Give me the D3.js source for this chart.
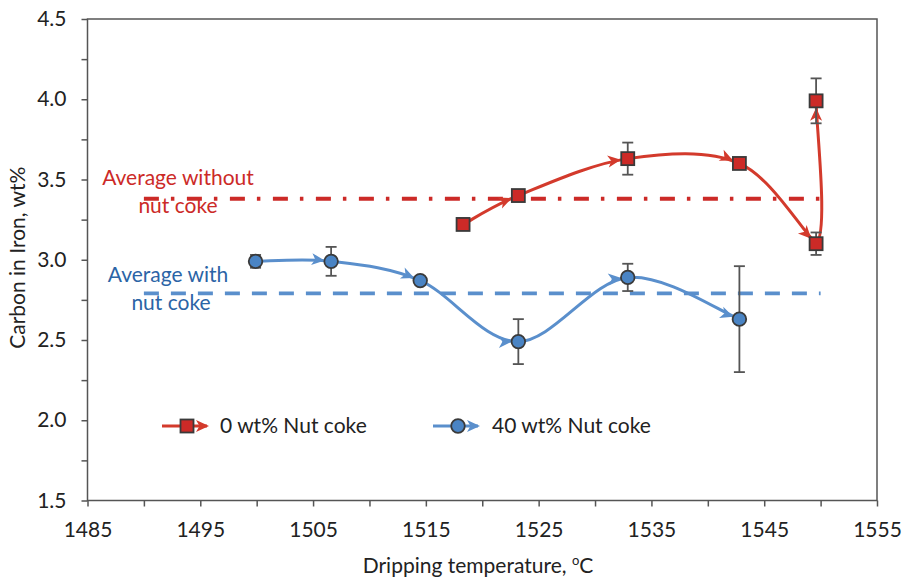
<!DOCTYPE html>
<html><head><meta charset="utf-8">
<script src="https://cdn.jsdelivr.net/npm/d3@7"></script>
<style>body{margin:0;background:#fff}svg{display:block}text{font-family:Lato,"Open Sans",sans-serif}</style>
</head><body><svg id="c" width="904" height="580"></svg>
<script>
const redTemp = [1518.3, 1523.2, 1532.9, 1542.8, 1549.6, 1549.6];
const redCarbon = [3.22, 3.40, 3.63, 3.60, 3.10, 3.99];
const redErr = [0.03, 0.0, 0.10, 0.0, 0.07, 0.14];
const blueTemp = [1499.9, 1506.6, 1514.5, 1523.2, 1532.9, 1542.8];
const blueCarbon = [2.99, 2.99, 2.87, 2.49, 2.89, 2.63];
const blueErr = [0.04, 0.09, 0.0, 0.14, 0.085, 0.33];
const avgWithout = 3.38, avgWith = 2.79;
const avgRange = [1490, 1550];
const xTicks = [1485, 1495, 1505, 1515, 1525, 1535, 1545, 1555];
const yTicks = [1.5, 2.0, 2.5, 3.0, 3.5, 4.0, 4.5];
const seriesNames = ["0 wt% Nut coke", "40 wt% Nut coke"];

const RED = "#cc2a27", REDL = "#d33a2c", BLUE = "#4a84c4", BLUEL = "#5a8fcc", AX = "#555";
const FS = "21px";
const svg = d3.select("#c");
const L = 87.5, R = 877, T = 19, B = 500.5;
const x = d3.scaleLinear().domain([1485, 1555]).range([L, R]);
const y = d3.scaleLinear().domain([1.5, 4.5]).range([B, T]);

// frame
svg.append("rect").attr("x", L).attr("y", T).attr("width", R - L).attr("height", B - T)
  .attr("fill", "none").attr("stroke", AX).attr("stroke-width", 1.5);

// axes
const xAx = svg.append("g").attr("transform", `translate(0,${B})`)
  .call(d3.axisBottom(x).tickValues(d3.range(1485, 1556, 5)).tickSize(6).tickFormat(d => xTicks.includes(d) ? d : ""));
const yAx = svg.append("g").attr("transform", `translate(${L},0)`)
  .call(d3.axisLeft(y).tickValues(d3.range(1.5, 4.51, 0.25)).tickSize(6)
    .tickFormat(d => yTicks.some(t => Math.abs(t - d) < 1e-6) ? d3.format(".1f")(d) : ""));
[xAx, yAx].forEach(g => {
  g.select(".domain").remove();
  g.selectAll("line").attr("stroke", AX).attr("stroke-width", 1.5);
  g.selectAll("text").attr("fill", "#222").style("font-size", FS);
});
xAx.selectAll("text").attr("y", 36.5).attr("dy", 0);
yAx.selectAll("text").attr("x", -21);

// axis titles
svg.append("text").attr("x", 478).attr("y", 573).attr("text-anchor", "middle")
  .style("font-size", FS).attr("fill", "#222")
  .html('Dripping temperature, <tspan dy="-8" font-size="13px">o</tspan><tspan dy="8">C</tspan>');
svg.append("text").attr("transform", `translate(25,${(T + B) / 2 - 2}) rotate(-90)`).attr("text-anchor", "middle")
  .style("font-size", FS).attr("fill", "#222").text("Carbon in Iron, wt%");

// average lines
svg.append("line").attr("x1", x(avgRange[0])).attr("x2", x(avgRange[1]))
  .attr("y1", y(avgWithout)).attr("y2", y(avgWithout))
  .attr("stroke", RED).attr("stroke-width", 3.8).attr("stroke-dasharray", "15,12,3.5,12.5");
svg.append("line").attr("x1", x(avgRange[0])).attr("x2", x(avgRange[1]))
  .attr("y1", y(avgWith)).attr("y2", y(avgWith))
  .attr("stroke", BLUEL).attr("stroke-width", 3.8).attr("stroke-dasharray", "15,12");

// annotation labels
const ann = [
  {t: "Average without", x: 178, y: 185, c: RED},
  {t: "nut coke", x: 178, y: 213, c: RED},
  {t: "Average with", x: 168, y: 282, c: "#2b64a6"},
  {t: "nut coke", x: 171, y: 310, c: "#2b64a6"}
];
svg.selectAll(".ann").data(ann).enter().append("text").attr("class", "ann")
  .attr("x", d => d.x).attr("y", d => d.y).attr("text-anchor", "middle")
  .style("font-size", FS).attr("fill", d => d.c).text(d => d.t);

// arrow markers
const defs = svg.append("defs");
function marker(id, col, off) {
  defs.append("marker").attr("id", id).attr("markerUnits", "userSpaceOnUse")
    .attr("viewBox", "-2 -8 30 16").attr("markerWidth", 30).attr("markerHeight", 16)
    .attr("refX", 13 + off).attr("refY", 0).attr("orient", "auto")
    .append("path").attr("d", "M0,-6 L13,0 L0,6 L3.5,0 Z").attr("fill", col);
}
marker("arR", REDL, 7);
marker("arB", BLUEL, 6.5);

function drawSeries(xs, ys, errs, lineCol, fillCol, mk, shape) {
  const pts = xs.map((t, i) => [x(t), y(ys[i])]);
  const n = pts.length;
  // sharp turn detection: use chord tangent on incoming side
  const sharp = pts.map((p, i) => {
    if (i === 0 || i === n - 1) return false;
    const a = [p[0] - pts[i - 1][0], p[1] - pts[i - 1][1]], b = [pts[i + 1][0] - p[0], pts[i + 1][1] - p[1]];
    const c = (a[0] * b[0] + a[1] * b[1]) / (Math.hypot(...a) * Math.hypot(...b));
    return c < -0.4;
  });
  const g = svg.append("g");
  for (let i = 0; i < n - 1; i++) {
    const p0 = pts[Math.max(0, i - 1)], p1 = pts[i], p2 = pts[i + 1], p3 = pts[Math.min(n - 1, i + 2)];
    const c1 = [p1[0] + (p2[0] - p0[0]) / 6, p1[1] + (p2[1] - p0[1]) / 6];
    let c2 = [p2[0] - (p3[0] - p1[0]) / 6, p2[1] - (p3[1] - p1[1]) / 6];
    if (sharp[i + 1]) c2 = [p2[0] - (p2[0] - p1[0]) / 4, p2[1] - (p2[1] - p1[1]) / 4];
    const path = d3.path();
    path.moveTo(p1[0], p1[1]);
    path.bezierCurveTo(c1[0], c1[1], c2[0], c2[1], p2[0], p2[1]);
    g.append("path").attr("d", path.toString()).attr("fill", "none")
      .attr("stroke", lineCol).attr("stroke-width", 3).attr("marker-end", `url(#${mk})`);
  }
  // error bars
  xs.forEach((t, i) => {
    if (errs[i] <= 0) return;
    const cx = x(t), y1 = y(ys[i] + errs[i]), y2 = y(ys[i] - errs[i]);
    g.append("line").attr("x1", cx).attr("x2", cx).attr("y1", y1).attr("y2", y2).attr("stroke", AX).attr("stroke-width", 1.8);
    [y1, y2].forEach(yy => g.append("line").attr("x1", cx - 5.5).attr("x2", cx + 5.5).attr("y1", yy).attr("y2", yy)
      .attr("stroke", AX).attr("stroke-width", 1.8));
  });
  // markers
  pts.forEach(p => {
    if (shape === "sq") g.append("rect").attr("x", p[0] - 6.5).attr("y", p[1] - 6.5).attr("width", 13).attr("height", 13)
      .attr("fill", fillCol).attr("stroke", "#3a3a3a").attr("stroke-width", 1.8);
    else g.append("circle").attr("cx", p[0]).attr("cy", p[1]).attr("r", 6.8)
      .attr("fill", fillCol).attr("stroke", "#3a3a3a").attr("stroke-width", 1.8);
  });
}
drawSeries(redTemp, redCarbon, redErr, REDL, RED, "arR", "sq");
drawSeries(blueTemp, blueCarbon, blueErr, BLUEL, BLUE, "arB", "ci");

// legend
const leg = [
  {name: seriesNames[0], x0: 162, col: REDL, fill: RED, shape: "sq", tx: 220},
  {name: seriesNames[1], x0: 433, col: BLUEL, fill: BLUE, shape: "ci", tx: 492}
];
const ly = 426;
leg.forEach(d => {
  const g = svg.append("g");
  g.append("line").attr("x1", d.x0).attr("x2", d.x0 + 45).attr("y1", ly).attr("y2", ly)
    .attr("stroke", d.col).attr("stroke-width", 3);
  g.append("path").attr("d", `M${d.x0 + 34},${ly - 6} L${d.x0 + 47},${ly} L${d.x0 + 34},${ly + 6} L${d.x0 + 37.5},${ly} Z`).attr("fill", d.col);
  const mx = d.x0 + 25;
  if (d.shape === "sq") g.append("rect").attr("x", mx - 6.5).attr("y", ly - 6.5).attr("width", 13).attr("height", 13)
    .attr("fill", d.fill).attr("stroke", "#3a3a3a").attr("stroke-width", 1.8);
  else g.append("circle").attr("cx", mx).attr("cy", ly).attr("r", 6.8)
    .attr("fill", d.fill).attr("stroke", "#3a3a3a").attr("stroke-width", 1.8);
  g.append("text").attr("x", d.tx).attr("y", ly + 7).style("font-size", FS).attr("fill", "#222").text(d.name);
});
</script></body></html>
